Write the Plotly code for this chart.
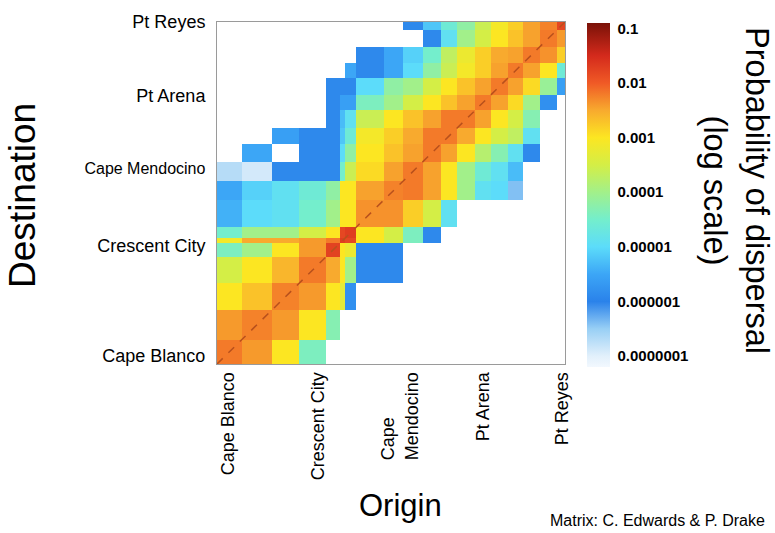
import plotly.graph_objects as go

# Grid cell edges (distance along coast, arbitrary units), same for origin and destination
edges = [0, 24.5, 55, 82, 108.5, 123, 128, 139, 167, 186, 206, 224, 240, 258, 274, 291, 306, 323, 340, 348]

N = None
# log10(probability of dispersal); rows = destination (south -> north), cols = origin (south -> north)
r0 = [-2.2, -2.4, -3.0, -4.4, N, N, N, N, N, N, N, N, N, N, N, N, N, N, N]
r1 = [-2.4, -2.25, -2.4, -3.0, -4.3, N, N, N, N, N, N, N, N, N, N, N, N, N, N]
r2 = [-3.0, -2.7, -2.25, -2.4, -3.0, -3.3, -5.8, N, N, N, N, N, N, N, N, N, N, N, N]
r3 = [-3.5, -3.0, -2.6, -2.2, -2.5, -3.0, -4.0, -5.9, -5.9, N, N, N, N, N, N, N, N, N, N]
r4 = [-4.4, -4.0, -3.0, -2.4, -1.75, -3.0, -3.2, -5.9, -5.9, N, N, N, N, N, N, N, N, N, N]
r5 = [-3.1, -2.5, -2.5, -2.4, -2.2, -1.7, -1.8, -3.0, -3.5, -4.4, -5.9, N, N, N, N, N, N, N, N]
r6 = [-4.5, -4.0, -4.0, -3.5, -3.0, -1.8, -1.7, -3.0, -3.5, -4.4, -5.9, N, N, N, N, N, N, N, N]
r7 = [-5.4, -5.0, -4.9, -4.5, -4.0, -3.0, -3.0, -2.35, -2.35, -2.8, -3.5, -4.9, N, N, N, N, N, N, N]
r8 = [-5.5, -5.1, -4.9, -4.6, -4.2, -3.0, -3.0, -2.45, -2.25, -2.2, -2.45, -3.0, -4.0, -4.9, -5.0, -6.4, N, N, N]
r9 = [-6.7, -6.9, -5.9, -5.9, -5.9, -4.5, -3.6, -2.9, -2.45, -2.2, -2.45, -3.0, -4.0, -4.6, -4.9, -5.3, N, N, N]
r10 = [N, -5.5, N, -5.9, -5.9, -5.0, -4.2, -3.0, -2.7, -2.45, -2.2, -2.45, -3.0, -3.8, -4.3, -4.9, -5.9, N, N]
r11 = [N, N, -5.6, -5.9, -5.9, -5.2, -4.6, -3.1, -2.8, -2.5, -2.2, -2.2, -2.5, -3.0, -3.5, -3.7, -4.9, N, N]
r12 = [N, N, N, N, -5.9, -5.3, -4.9, -3.6, -3.0, -2.7, -2.45, -2.2, -2.2, -2.45, -3.0, -3.5, -4.3, N, N]
r13 = [N, N, N, N, -5.9, -5.6, -5.6, -4.4, -4.0, -3.5, -3.0, -2.7, -2.45, -2.2, -2.45, -2.9, -4.0, -5.8, N]
r14 = [N, N, N, N, -5.9, -5.9, -5.9, -5.0, -4.2, -4.0, -3.5, -3.0, -2.7, -2.45, -2.2, -2.45, -2.9, -4.1, -5.6]
r15 = [N, N, N, N, N, N, -5.5, -5.9, -5.5, -5.0, -4.2, -3.6, -3.1, -2.8, -2.45, -2.2, -2.45, -3.0, -4.6]
r16 = [N, N, N, N, N, N, N, -5.9, -5.5, -5.1, -4.5, -3.7, -3.2, -2.8, -2.5, -2.45, -2.2, -2.35, -2.8]
r17 = [N, N, N, N, N, N, N, N, N, N, -5.9, -4.9, -4.0, -3.5, -3.0, -2.7, -2.45, -2.2, -2.4]
r18 = [N, N, N, N, N, N, N, N, N, -5.9, -5.2, -4.6, -4.2, -3.6, -3.1, -2.8, -2.45, -2.25, -1.8]
log_prob = [r0, r1, r2, r3, r4, r5, r6, r7, r8, r9, r10, r11, r12, r13, r14, r15, r16, r17, r18]

NB = "\u00a0"
origin_tick_pos = [11, 101, 183, 266, 345]
origin_tick_text = ["Cape Blanco", "Crescent City", "Cape" + NB * 9 + "<br>Mendocino", "Pt Arena", "Pt Reyes"]
dest_tick_pos = [8, 120, 200, 273, 348]
dest_tick_text = ["Cape Blanco", "Crescent City", "<span style='font-size:16px'>Cape Mendocino</span>",
                  "Pt Arena", "Pt Reyes"]

cbar_tick_vals = [-1, -2, -3, -4, -5, -6, -7]
cbar_tick_text = ["0.1", "0.01", "0.001", "0.0001", "0.00001", "0.000001", "0.0000001"]
z_min, z_max = -7.2, -0.9

def pos(v):
    return (v - z_min) / (z_max - z_min)

colorscale = [
    [0.0, "#f2f8fe"],
    [pos(-7.0), "#e2f0fb"],
    [pos(-6.5), "#98cff5"],
    [pos(-6.0), "#2a82ea"],
    [pos(-5.5), "#3ca6f6"],
    [pos(-5.0), "#5cdcfa"],
    [pos(-4.5), "#74eecc"],
    [pos(-4.0), "#a2f08a"],
    [pos(-3.5), "#d4ee46"],
    [pos(-3.0), "#fce622"],
    [pos(-2.5), "#f8aa2e"],
    [pos(-2.0), "#f05a26"],
    [pos(-1.5), "#d42a1c"],
    [1.0, "#7a1208"],
]

FONT = "Arial, Liberation Sans, sans-serif"
L, R, T, B = 217, 210, 16, 169
W, H = 775, 533
pw = W - L - R
ph = H - T - B

def px_x(x):
    return (x - L) / pw

def px_y(y):
    return (H - B - y) / ph

fig = go.Figure()
fig.add_trace(go.Heatmap(
    x=edges, y=edges, z=log_prob,
    zmin=z_min, zmax=z_max, colorscale=colorscale,
    hoverongaps=False,
    colorbar=dict(
        x=px_x(587), xanchor="left", xpad=0, y=px_y(192), yanchor="middle", ypad=0,
        len=350 / ph, lenmode="fraction", thickness=23, outlinewidth=0,
        tickvals=cbar_tick_vals, ticktext=cbar_tick_text,
        ticks="outside", ticklen=5, tickcolor="rgba(0,0,0,0)",
        tickfont=dict(family=FONT, size=15, color="black", weight="bold"),
    ),
))
fig.add_trace(go.Scatter(
    x=[edges[0], edges[-1]], y=[edges[0], edges[-1]], mode="lines",
    line=dict(color="#b8501c", width=1.5, dash="8px,8px"),
    hoverinfo="skip", showlegend=False,
))

fig.update_layout(
    width=W, height=H, margin=dict(l=L, r=R, t=T, b=B),
    paper_bgcolor="white", plot_bgcolor="white", showlegend=False,
    xaxis=dict(range=[edges[0], edges[-1]], tickvals=origin_tick_pos, ticktext=origin_tick_text,
               tickangle=-90, tickfont=dict(family=FONT, size=18, color="black"),
               showgrid=False, zeroline=False, ticks="", showline=True, mirror=True,
               linecolor="#9a9a9a", linewidth=1),
    yaxis=dict(range=[edges[0], edges[-1]], tickvals=dest_tick_pos, ticktext=dest_tick_text,
               tickfont=dict(family=FONT, size=18, color="black"), ticklabelstandoff=7,
               showgrid=False, zeroline=False, ticks="", showline=True, mirror=True,
               linecolor="#9a9a9a", linewidth=1),
    annotations=[
        dict(text="Destination", xref="paper", yref="paper", x=px_x(23), y=px_y(193),
             textangle=-90, showarrow=False, font=dict(family=FONT, size=37, color="black"),
             xanchor="center", yanchor="middle"),
        dict(text="Origin", xref="paper", yref="paper", x=px_x(400), y=px_y(508),
             showarrow=False, font=dict(family=FONT, size=31, color="black"),
             xanchor="center", yanchor="middle"),
        dict(text="Probability of dispersal<br>(log scale)", xref="paper", yref="paper",
             x=px_x(736), y=px_y(187), textangle=90, showarrow=False,
             font=dict(family=FONT, size=32.5, color="black"), xanchor="center", yanchor="middle"),
        dict(text="Matrix: C. Edwards & P. Drake", xref="paper", yref="paper",
             x=px_x(548), y=px_y(523), showarrow=False, xanchor="left", yanchor="middle",
             font=dict(family=FONT, size=16, color="black")),
    ],
)

fig.write_html("out.html")
